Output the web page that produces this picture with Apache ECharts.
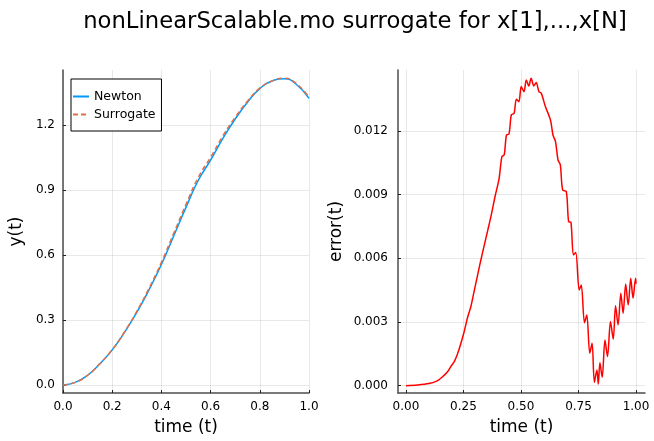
<!DOCTYPE html>
<html>
<head>
    <meta charset="utf-8">
    <title>nonLinearScalable.mo surrogate</title>
</head>
<style>
    body {
        margin: 0;
        background: #fff;
    }

    #chart {
        width: 654px;
        height: 441px;
    }
</style>
<body>
<div id="chart"></div>

<script type="text/javascript" src="https://cdn.jsdelivr.net/npm/echarts@6/dist/echarts.min.js"></script>
<script type="text/javascript">

    // left panel: y(t)
    var timeT = [0, 0.05, 0.1, 0.15, 0.2, 0.25, 0.3, 0.35, 0.4, 0.45, 0.5,
        0.55, 0.6, 0.65, 0.7, 0.75, 0.8, 0.85, 0.9, 0.95, 1.0];
    var newtonY = [0, 0.012, 0.045, 0.098, 0.162, 0.243, 0.335, 0.44, 0.556, 0.688, 0.82,
        0.945, 1.038, 1.138, 1.228, 1.305, 1.368, 1.403, 1.414, 1.386, 1.323];
    var surrogateY = [0, 0.012, 0.045, 0.098, 0.163, 0.245, 0.34, 0.447, 0.566, 0.7, 0.834,
        0.959, 1.051, 1.15, 1.236, 1.31, 1.37, 1.404, 1.416, 1.39, 1.328];

    // right panel: error(t)
    var errT = [0, 0.05, 0.1, 0.138, 0.159, 0.181, 0.195, 0.21, 0.224, 0.238, 0.253,
        0.267, 0.282, 0.296, 0.31, 0.324, 0.339, 0.356, 0.37, 0.387, 0.405,
        0.417, 0.427, 0.437, 0.448, 0.458, 0.47, 0.48, 0.491, 0.501, 0.513,
        0.523, 0.534, 0.544, 0.556, 0.566, 0.578, 0.588, 0.606, 0.628, 0.639,
        0.65, 0.661, 0.671, 0.681, 0.697, 0.707, 0.717, 0.728, 0.738, 0.753,
        0.762, 0.776, 0.786, 0.799, 0.809, 0.819, 0.83, 0.836, 0.843, 0.853,
        0.865, 0.876, 0.889, 0.901, 0.911, 0.922, 0.934, 0.944, 0.955, 0.966,
        0.977, 0.987, 0.998, 1.0];
    var errV = [0, 0.00003, 0.0001, 0.00024, 0.00042, 0.00066, 0.0009, 0.00113, 0.00149, 0.00196, 0.00254,
        0.00318, 0.00372, 0.00443, 0.00514, 0.00584, 0.00655, 0.00734, 0.008, 0.0089, 0.00977,
        0.01079, 0.01087, 0.01181, 0.01186, 0.01275, 0.01283, 0.01349, 0.01338, 0.01409, 0.01385,
        0.0144, 0.01412, 0.01448, 0.01412, 0.01428, 0.01385, 0.01378, 0.01315, 0.01252, 0.01181,
        0.0115, 0.01063, 0.0104, 0.00922, 0.00914, 0.00773, 0.0077, 0.00616, 0.00627, 0.00451,
        0.00474, 0.00297, 0.00333, 0.00153, 0.002, 0.00016, 0.00074, 0.00008, 0.00108, 0.0004,
        0.00215, 0.00137, 0.00302, 0.00219, 0.00376, 0.00286, 0.00435, 0.00341, 0.00479, 0.0038,
        0.00506, 0.00412, 0.00506, 0.0048];

    // tick values
    var xTicksLeft = [0, 0.2, 0.4, 0.6, 0.8, 1.0];
    var yTicksLeft = [0, 0.3, 0.6, 0.9, 1.2];
    var xTicksRight = [0, 0.25, 0.5, 0.75, 1.0];
    var yTicksRight = [0, 0.003, 0.006, 0.009, 0.012];

    function zip(xs, ys) {
        return xs.map(function (x, i) {
            return [x, ys[i]];
        });
    }

    var font = 'DejaVu Sans';

    function axis(opt) {
        return {
            type: 'value',
            gridIndex: opt.grid,
            min: opt.min,
            max: opt.max,
            name: opt.name,
            nameLocation: 'middle',
            nameGap: opt.nameGap,
            nameTextStyle: {fontFamily: font, fontSize: 17, color: '#000'},
            axisLine: {show: true, onZero: false, lineStyle: {color: '#4d4d4d', width: 1.5}},
            axisTick: {show: true, inside: true, length: 3, customValues: opt.ticks,
                lineStyle: {color: '#222', width: 1}},
            axisLabel: {
                customValues: opt.ticks,
                margin: opt.margin || 8,
                fontFamily: font, fontSize: 12, color: '#000',
                formatter: function (v) {
                    return v.toFixed(opt.digits);
                }
            },
            splitLine: {show: true, lineStyle: {color: 'rgba(0,0,0,0.09)', width: 1}}
        };
    }

    var chart = echarts.init(document.getElementById('chart'), null, {renderer: 'canvas'});

    chart.setOption({
        animation: false,
        backgroundColor: '#fff',
        title: {
            text: 'nonLinearScalable.mo surrogate for x[1],...,x[N]',
            left: 350,
            textAlign: 'center',
            top: 6,
            textStyle: {fontFamily: font, fontSize: 22.7, fontWeight: 'normal', color: '#000'}
        },
        legend: {
            orient: 'vertical',
            left: 71,
            top: 79,
            padding: [11, 6, 10, 1],
            itemGap: 5,
            itemWidth: 16,
            itemHeight: 12,
            borderColor: '#000',
            borderWidth: 1,
            backgroundColor: '#fff',
            itemStyle: {opacity: 0},
            textStyle: {fontFamily: font, fontSize: 12.5, color: '#000'},
            data: ['Newton', 'Surrogate']
        },
        grid: [
            {left: 63, right: 345, top: 70, bottom: 48},
            {left: 398, right: 9, top: 70, bottom: 48}
        ],
        xAxis: [
            axis({grid: 0, min: 0, max: 1, ticks: xTicksLeft, digits: 1, name: 'time (t)', nameGap: 26}),
            axis({grid: 1, min: -0.0345, max: 1.039, ticks: xTicksRight, digits: 2, name: 'time (t)', nameGap: 26})
        ],
        yAxis: [
            axis({grid: 0, min: -0.037, max: 1.454, ticks: yTicksLeft, digits: 1, name: 'y(t)', nameGap: 38}),
            axis({grid: 1, min: -0.000344, max: 0.01487, ticks: yTicksRight, digits: 3, name: 'error(t)',
                nameGap: 53, margin: 10})
        ],
        series: [
            {
                name: 'Newton',
                type: 'line',
                xAxisIndex: 0,
                yAxisIndex: 0,
                data: zip(timeT, newtonY),
                smooth: true,
                showSymbol: false,
                color: '#009af9',
                lineStyle: {width: 1.5}
            },
            {
                name: 'Surrogate',
                type: 'line',
                xAxisIndex: 0,
                yAxisIndex: 0,
                data: zip(timeT, surrogateY),
                smooth: true,
                showSymbol: false,
                color: '#e26f46',
                lineStyle: {width: 1.5, type: [5, 3]}
            },
            {
                name: 'error',
                type: 'line',
                xAxisIndex: 1,
                yAxisIndex: 1,
                data: zip(errT, errV),
                smooth: 0.3,
                showSymbol: false,
                color: '#ff0000',
                lineStyle: {width: 1.5}
            }
        ]
    });
</script>
</body>
</html>
